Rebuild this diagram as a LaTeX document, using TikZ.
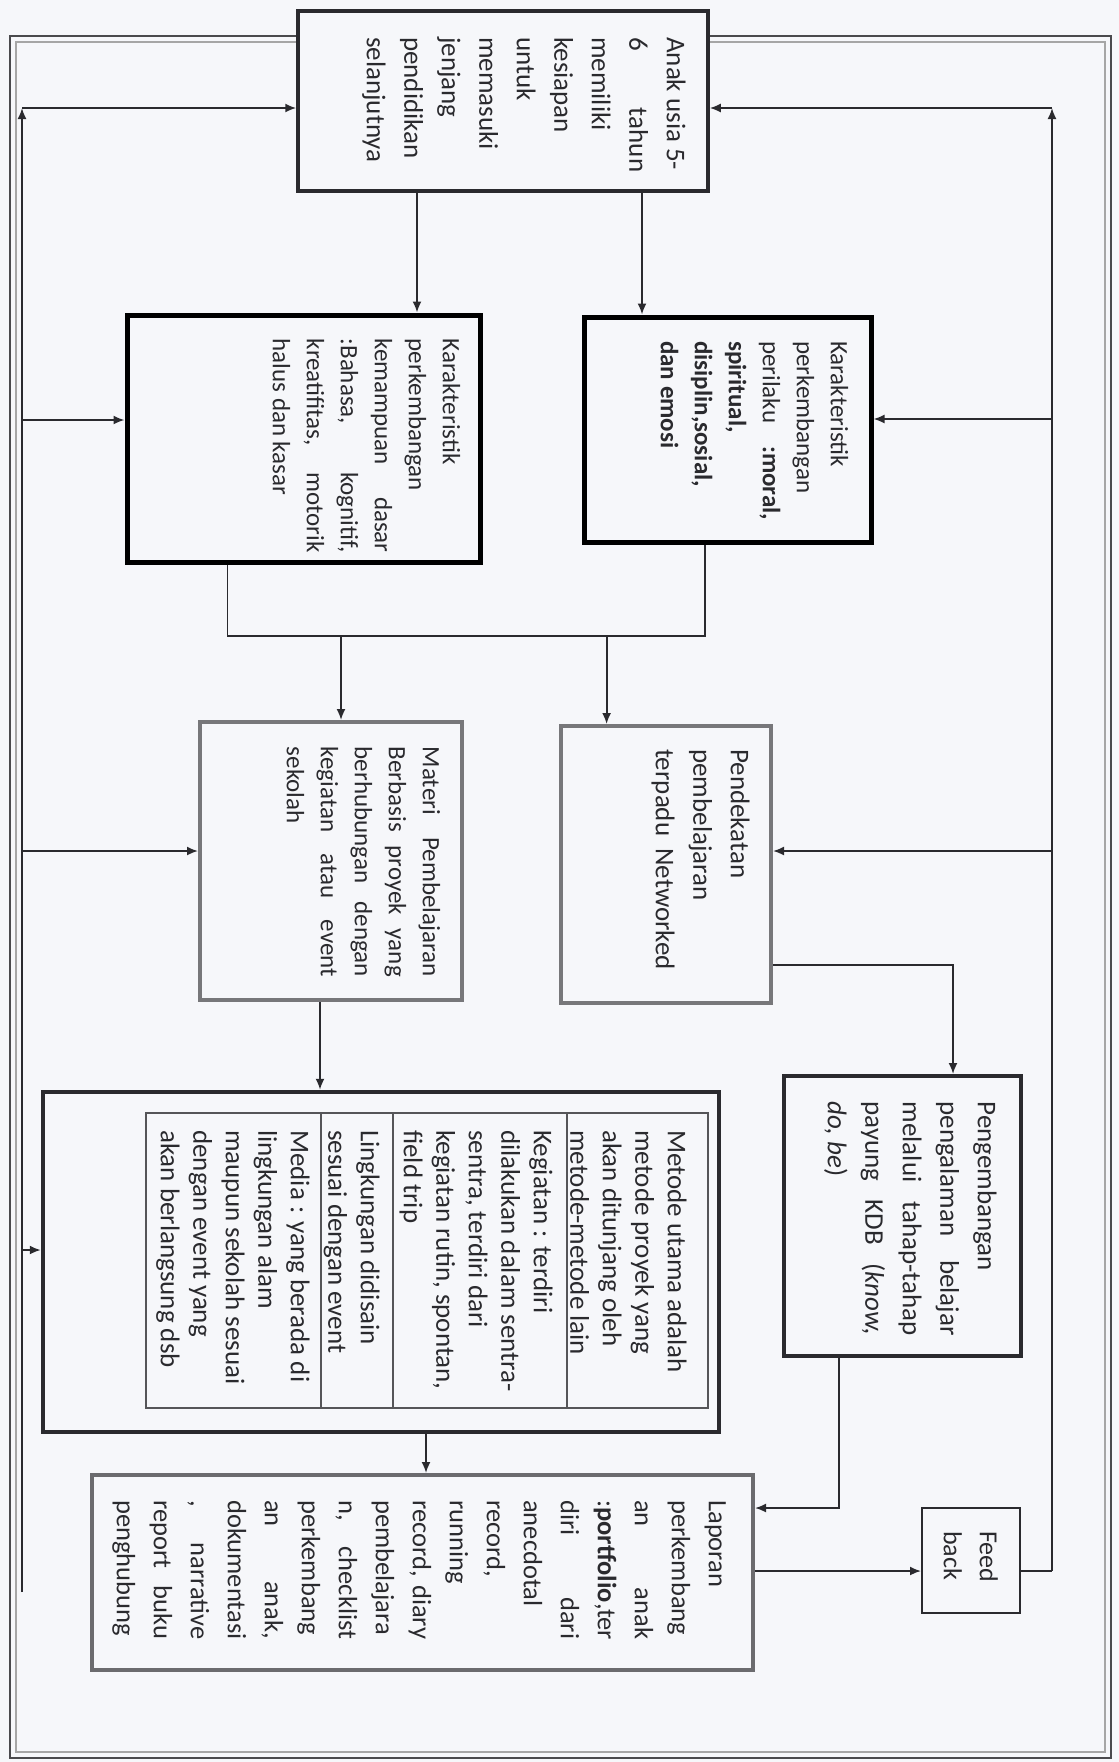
\documentclass[tikz,border=0pt]{standalone}
\usepackage{fontspec}
\setmainfont{Carlito}
\usetikzlibrary{arrows.meta,calc}
\definecolor{bg}{HTML}{F6F7FA}
\definecolor{ink}{HTML}{2A2A2E}
\definecolor{gbox}{HTML}{77777A}
\newcommand\jline[2]{\hbox to #1pt{#2}}
\newcommand\bigf{\fontsize{27}{37.5}\selectfont}
\newcommand\smallf{\fontsize{25}{34}\selectfont}
\newcommand\tabf{\fontsize{27}{32.5}\selectfont}
\newcommand\repf{\fontsize{26.5}{37}\selectfont}
\newcommand\fbf{\fontsize{26}{36}\selectfont}
\begin{document}
\begin{tikzpicture}[x=1pt,y=-1pt,
  boxbase/.style={rectangle, fill=bg, inner sep=0pt},
  thickbox/.style={boxbase, draw=black, line width=5pt},
  darkbox/.style={boxbase, draw=ink, line width=4pt},
  graybox/.style={boxbase, draw=gbox, line width=4pt},
  thinbox/.style={boxbase, draw=ink, line width=2pt},
  txt/.style={rotate=-90, anchor=north west, inner sep=0pt, align=left, text=ink},
  conn/.style={draw=ink, line width=1.8pt},
  arr/.style={conn, -{Latex[length=11pt,width=9pt]}},
]
\useasboundingbox (0,0) rectangle (1119,1762);
\fill[bg] (0,0) rectangle (1119,1762);
% outer frame (double line)
\draw[ink!85, line width=2.5pt] (10,36) rectangle (1111,1758);
\draw[gray!70, line width=1.5pt] (16,42) rectangle (1105,1752);

% boxes
\node[darkbox, line width=3.5pt, minimum width=410pt, minimum height=180pt] (b1) at (503,101) {};
\node[thickbox, minimum width=287pt, minimum height=225pt] (b2) at (727.5,429.5) {};
\node[thickbox, minimum width=353pt, minimum height=247pt] (b3) at (303.5,438.5) {};
\node[graybox, minimum width=210pt, minimum height=277pt] (b4) at (666,864.5) {};
\node[graybox, minimum width=262pt, minimum height=278pt] (b5) at (331,861) {};
\node[darkbox, minimum width=237pt, minimum height=280pt] (b6) at (902.5,1216) {};
\node[darkbox, line width=4.5pt, minimum width=676pt, minimum height=340pt] (b7) at (381,1262) {};
\node[boxbase, draw=ink!80, line width=1.8pt, minimum width=562pt, minimum height=295pt] (tbl) at (427,1260.5) {};
\node[graybox, draw=gbox!90!black, minimum width=661pt, minimum height=195pt] (b8) at (422.5,1572.5) {};
\node[thinbox, minimum width=98pt, minimum height=105pt] (fb) at (971,1560.5) {};

% table dividers
\draw[ink!80, line width=1.8pt] (567,0 |- tbl.north) -- (567,0 |- tbl.south);
\draw[ink!80, line width=1.8pt] (393,0 |- tbl.north) -- (393,0 |- tbl.south);
\draw[ink!80, line width=1.8pt] (321,0 |- tbl.north) -- (321,0 |- tbl.south);

% texts
\node[txt, font=\bigf] (t1) at (693.25,37) {\strut Anak usia 5-\\ \jline{135}{6\hfill tahun}\\ memiliki\\ kesiapan\\ untuk\\ memasuki\\ jenjang\\ pendidikan\\ selanjutnya};
\node[txt, font=\smallf] (t2) at (854.8,341) {\strut Karakteristik\\ perkembangan\\ \jline{179}{perilaku\hfill\textbf{:moral,}}\\ \textbf{spiritual,}\\ \textbf{disiplin,sosial,}\\ \textbf{dan emosi}};
\node[txt, font=\smallf] (t3) at (466.8,338.5) {\strut Karakteristik\\ perkembangan\\ \jline{214}{kemampuan\hfill dasar}\\ \jline{214}{:Bahasa,\hfill kognitif,}\\ \jline{214}{kreatifitas,\hfill motorik}\\ halus dan kasar};
\node[txt, font=\bigf] (t4) at (757.25,749) {\strut Pendekatan\\ pembelajaran\\ terpadu\hspace{6pt} Networked};
\node[txt, font=\smallf] (t5) at (446.8,746.6) {\strut\jline{230}{Materi\hfill Pembelajaran}\\ \jline{230}{Berbasis\hfill proyek\hfill yang}\\ \jline{230}{berhubungan\hfill dengan}\\ \jline{230}{kegiatan\hfill atau\hfill event}\\ sekolah};
\node[txt, font=\bigf] (t6) at (1004.25,1101.5) {\strut Pengembangan\\ \jline{234}{pengalaman\hfill belajar}\\ \jline{234}{melalui\hfill tahap-tahap}\\ \jline{234}{payung\hfill KDB\hfill (\textit{know,}}\\ \textit{do, be})};
\node[txt, font=\tabf] (r1) at (690.75,1130) {\strut Metode utama adalah\\ metode proyek yang\\ akan ditunjang oleh\\ metode-metode lain};
\node[txt, font=\tabf] (r2) at (556.75,1130) {\strut Kegiatan : terdiri\\ dilakukan dalam sentra-\\ sentra, terdiri dari\\ kegiatan rutin, spontan,\\ field trip};
\node[txt, font=\tabf] (r3) at (383.75,1130) {\strut Lingkungan didisain\\ sesuai dengan event};
\node[txt, font=\tabf] (r4) at (313.75,1130) {\strut Media : yang berada di\\ lingkungan alam\\ maupun sekolah sesuai\\ dengan event yang\\ akan berlangsung dsb};
\node[txt, font=\repf] (t8) at (734.9,1500) {\strut Laporan\\ perkembang\\ \jline{139}{an\hfill anak}\\ :\textbf{portfolio},ter\\ \jline{139}{diri\hfill dari}\\ anecdotal\\ record,\\ running\\ \jline{139}{record,\hfill diary}\\ pembelajara\\ \jline{139}{n,\hfill checklist}\\ perkembang\\ \jline{139}{an\hfill anak,}\\ dokumentasi\\ \jline{139}{,\hfill narrative}\\ \jline{139}{report\hfill buku}\\ penghubung};
\node[txt, font=\fbf] (tfb) at (1005.2,1531) {\strut Feed\\ back};

% connectors
\draw[arr] (417,0 |- b1.south) -- (417,0 |- b3.north);
\draw[arr] (642,0 |- b1.south) -- (642,0 |- b2.north);
\coordinate (jl) at (227.5,636);
\coordinate (jr) at (704.6,636);
\coordinate (j5) at (341,636);
\coordinate (j4) at (606.6,636);
\draw[conn] (jl |- b3.south) -- (jl) -- (jr) -- (jr |- b2.south);
\draw[arr] (j5) -- (j5 |- b5.north);
\draw[arr] (j4) -- (j4 |- b4.north);
\draw[arr] (320,0 |- b5.south) -- (320,0 |- b7.north);
\draw[arr] (b4.east |- 0,965) -- (953,965) -- (953,0 |- b6.north);
\draw[arr] (426,0 |- b7.south) -- (426,0 |- b8.north);
\draw[arr] (839,0 |- b6.south) -- (839,1508) -- (b8.east |- 0,1508);
\draw[arr] (b8.east |- 0,1571) -- (fb.west |- 0,1571);
% right feedback line
\coordinate (rtop) at (1052,108);
\coordinate (rbot) at (1052,1571);
\draw[conn] (fb.east |- rbot) -- (rbot);
\draw[arr] (rbot) -- (rtop);
\draw[arr] (rtop) -- (rtop -| b1.east);
\draw[arr] (1052,419) -- (b2.east |- 0,419);
\draw[arr] (1052,851) -- (b4.east |- 0,851);
% left feedback line
\coordinate (ltop) at (22,108);
\coordinate (lbot) at (22,1592);
\draw[arr] (lbot) -- (ltop);
\draw[arr] (ltop) -- (ltop -| b1.west);
\draw[arr] (22,420) -- (b3.west |- 0,420);
\draw[arr] (22,851) -- (b5.west |- 0,851);
\draw[arr] (22,1250) -- (b7.west |- 0,1250);
\end{tikzpicture}
\end{document}
